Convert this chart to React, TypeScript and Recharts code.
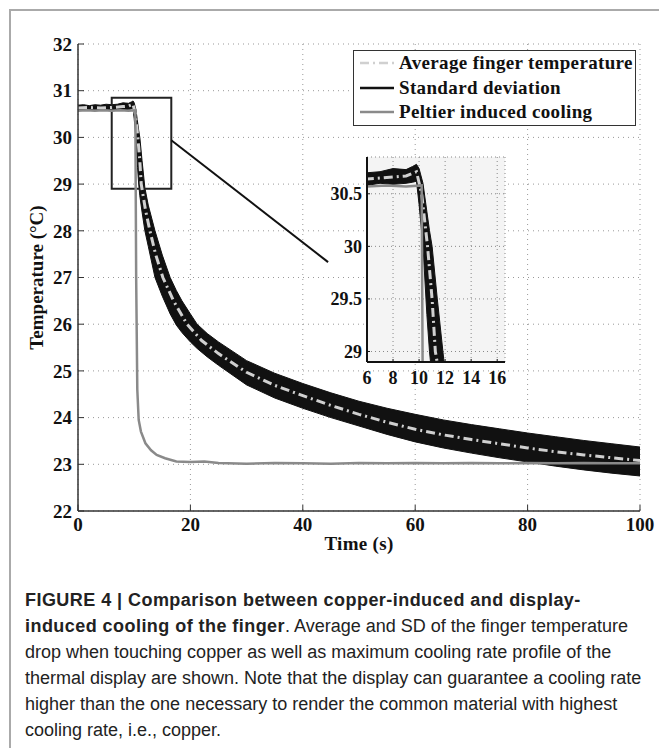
import {
  ComposedChart,
  Line,
  Area,
  XAxis,
  YAxis,
  CartesianGrid,
  ReferenceArea,
  ReferenceLine,
  Legend,
} from 'recharts';

const SERIF = '"Liberation Serif", "Times New Roman", serif';
const SANS = '"Liberation Sans", Arial, sans-serif';

// standard deviation band (lower / upper edge)
const BAND_TIME = [0, 1, 2, 3, 4, 5, 6, 7, 8, 9, 9.5, 9.8, 10, 10.3, 10.6, 10.8, 11, 11.4, 11.9, 12.5, 13.7, 15, 16.4, 17.5, 18.5, 20, 21.2, 23, 25, 30, 35, 40, 45, 50, 55, 60, 65, 70, 75, 80, 85, 90, 95, 100];
const BAND_LOW = [30.58, 30.59, 30.58, 30.59, 30.58, 30.59, 30.58, 30.6, 30.59, 30.6, 30.61, 30.62, 30.4, 30.0, 29.35, 29.0, 28.75, 28.4, 28.0, 27.67, 27.0, 26.6, 26.22, 25.98, 25.82, 25.62, 25.48, 25.3, 25.12, 24.7, 24.42, 24.2, 24.0, 23.82, 23.64, 23.48, 23.35, 23.24, 23.14, 23.05, 22.96, 22.88, 22.81, 22.75];
const BAND_HIGH = [30.69, 30.7, 30.68, 30.7, 30.69, 30.71, 30.7, 30.71, 30.74, 30.73, 30.76, 30.78, 30.74, 30.6, 30.33, 30.15, 30.0, 29.5, 28.92, 28.55, 28.0, 27.48, 27.0, 26.72, 26.5, 26.22, 26.0, 25.8, 25.62, 25.22, 24.95, 24.73, 24.53, 24.35, 24.2, 24.07, 23.95, 23.85, 23.76, 23.67, 23.59, 23.51, 23.44, 23.37];

// average finger temperature
const AVG_TIME = [0, 2, 4, 6, 8, 9, 9.8, 10.2, 10.65, 11, 11.25, 12, 12.8, 13.8, 15.1, 17, 19.4, 22, 25, 30, 35, 40, 45, 50, 55, 60, 65, 70, 75, 80, 85, 90, 95, 100];
const AVG_TEMP = [30.63, 30.64, 30.63, 30.64, 30.66, 30.67, 30.71, 30.5, 30.0, 29.5, 29.0, 28.45, 28.0, 27.5, 27.0, 26.5, 26.0, 25.65, 25.37, 24.97, 24.69, 24.47, 24.26, 24.07, 23.9, 23.75, 23.63, 23.53, 23.44, 23.35, 23.27, 23.2, 23.14, 23.08];

// peltier induced cooling
const PELTIER_TIME = [0, 1.5, 3, 4.5, 6, 7.5, 9, 10.2, 10.35, 10.55, 10.8, 11.2, 12, 13, 14, 15.5, 17.5, 20, 22.5, 25, 30, 35, 40, 45, 50, 55, 60, 65, 70, 75, 80, 85, 90, 95, 100];
const PELTIER_TEMP = [30.57, 30.58, 30.57, 30.58, 30.57, 30.58, 30.57, 30.58, 27.0, 24.6, 23.95, 23.7, 23.45, 23.3, 23.2, 23.13, 23.06, 23.05, 23.06, 23.03, 23.01, 23.03, 23.02, 23.01, 23.03, 23.02, 23.03, 23.02, 23.03, 23.02, 23.03, 23.02, 23.03, 23.02, 23.02];

const X_TICKS = [0, 20, 40, 60, 80, 100];
const Y_TICKS = [22, 23, 24, 25, 26, 27, 28, 29, 30, 31, 32];
const INSET_X = [6, 16.6];
const INSET_Y = [28.9, 30.85];
const INSET_X_TICKS = [6, 8, 10, 12, 14, 16];
const INSET_Y_TICKS = [29, 29.5, 30, 30.5];
const SERIES_NAMES = ['Average finger temperature', 'Standard deviation', 'Peltier induced cooling'];

const bandData = BAND_TIME.map((t, i) => ({ t, sd: [BAND_LOW[i], BAND_HIGH[i]] }));
const avgData = AVG_TIME.map((t, i) => ({ t, avg: AVG_TEMP[i] }));
const peltierData = PELTIER_TIME.map((t, i) => ({ t, peltier: PELTIER_TEMP[i] }));

const AVG_COLOR = '#d0d0d0';
const SD_COLOR = '#111';
const PELTIER_COLOR = '#8a8a8a';
const AVG_DASH = '9 4 2 4';

const tickStyle = { fontFamily: SERIF, fontWeight: 700, fontSize: 19, fill: '#111' };
const insetTickStyle = { fontFamily: SERIF, fontWeight: 700, fontSize: 18, fill: '#111' };

function series() {
  return [
    <Area
      key="sd"
      data={bandData}
      dataKey="sd"
      type="linear"
      stroke={SD_COLOR}
      strokeWidth={1}
      fill={SD_COLOR}
      fillOpacity={1}
      dot={false}
      activeDot={false}
      isAnimationActive={false}
    />,
    <Line
      key="avg"
      data={avgData}
      dataKey="avg"
      type="linear"
      stroke={AVG_COLOR}
      strokeWidth={3}
      strokeDasharray={AVG_DASH}
      dot={false}
      activeDot={false}
      isAnimationActive={false}
    />,
    <Line
      key="peltier"
      data={peltierData}
      dataKey="peltier"
      type="linear"
      stroke={PELTIER_COLOR}
      strokeWidth={2.5}
      dot={false}
      activeDot={false}
      isAnimationActive={false}
    />,
  ];
}

function LegendBox() {
  const styles = [
    { stroke: AVG_COLOR, dash: AVG_DASH },
    { stroke: SD_COLOR, dash: undefined },
    { stroke: PELTIER_COLOR, dash: undefined },
  ];
  return (
    <div
      style={{
        width: 283,
        height: 76,
        boxSizing: 'border-box',
        border: '1.5px solid #333',
        background: '#fff',
        fontFamily: SERIF,
        fontWeight: 700,
        fontSize: 19,
        letterSpacing: '0.35px',
        color: '#111',
      }}
    >
      {SERIES_NAMES.map((name, i) => (
        <div key={name} style={{ display: 'flex', alignItems: 'center', height: 24.5, paddingLeft: 6 }}>
          <svg width={34} height={6}>
            <line x1={0} y1={3} x2={34} y2={3} stroke={styles[i].stroke} strokeWidth={2.5} strokeDasharray={styles[i].dash} />
          </svg>
          <span style={{ marginLeft: 5, lineHeight: '24px', whiteSpace: 'nowrap' }}>{name}</span>
        </div>
      ))}
    </div>
  );
}

export default function App() {
  return (
    <div style={{ position: 'relative', width: 659, height: 748, background: '#fff', overflow: 'hidden' }}>
      <style>{`body { margin: 0; }`}</style>

      {/* figure frame */}
      <div style={{ position: 'absolute', left: 9, top: 9, width: 650, height: 2, background: '#aaa' }} />
      <div style={{ position: 'absolute', left: 9, top: 9, width: 2, height: 739, background: '#aaa' }} />

      <div style={{ position: 'absolute', left: 0, top: 0 }}>
        <ComposedChart width={659} height={556} margin={{ top: 44, right: 19, left: 0, bottom: 0 }}>
          <CartesianGrid stroke="#999" strokeDasharray="1 4" />
          <XAxis
            dataKey="t"
            type="number"
            domain={[0, 100]}
            ticks={X_TICKS}
            interval={0}
            allowDataOverflow
            height={45}
            tickSize={-6}
            tickMargin={13}
            tick={tickStyle}
            axisLine={{ stroke: '#333', strokeWidth: 1.5 }}
            tickLine={{ stroke: '#333' }}
            label={{ value: 'Time (s)', position: 'center', dy: 10, style: { ...tickStyle, letterSpacing: '0.3px' } }}
          />
          <XAxis
            xAxisId="top"
            orientation="top"
            dataKey="t"
            type="number"
            domain={[0, 100]}
            ticks={X_TICKS}
            allowDataOverflow
            height={0}
            tickSize={-6}
            tick={false}
            axisLine={{ stroke: '#333', strokeWidth: 1.5 }}
            tickLine={{ stroke: '#333' }}
          />
          <YAxis
            type="number"
            domain={[22, 32]}
            ticks={Y_TICKS}
            interval={0}
            allowDataOverflow
            width={78}
            tickSize={-6}
            tickMargin={12}
            tick={tickStyle}
            axisLine={{ stroke: '#333', strokeWidth: 1.5 }}
            tickLine={{ stroke: '#333' }}
            label={{ value: 'Temperature (°C)', angle: -90, position: 'center', dx: -3, style: tickStyle }}
          />
          <YAxis
            yAxisId="right"
            orientation="right"
            type="number"
            domain={[22, 32]}
            ticks={Y_TICKS}
            allowDataOverflow
            width={0}
            tickSize={-6}
            tick={false}
            axisLine={{ stroke: '#333', strokeWidth: 1.5 }}
            tickLine={{ stroke: '#333' }}
          />
          {series()}
          <ReferenceArea
            x1={INSET_X[0]}
            x2={INSET_X[1]}
            y1={INSET_Y[0]}
            y2={INSET_Y[1]}
            fill="none"
            stroke="#222"
            strokeWidth={2}
          />
          <ReferenceLine
            segment={[
              { x: INSET_X[1], y: 29.94 },
              { x: 44.5, y: 27.33 },
            ]}
            stroke="#111"
            strokeWidth={2}
            ifOverflow="visible"
          />
          <Legend
            content={() => <LegendBox />}
            layout="vertical"
            align="center"
            verticalAlign="middle"
            wrapperStyle={{ top: 50, left: 353, width: 283, height: 76 }}
          />
        </ComposedChart>
      </div>

      {/* zoomed inset */}
      <div style={{ position: 'absolute', left: 307, top: 150 }}>
        <ComposedChart width={202} height={242} margin={{ top: 7, right: 4, left: 0, bottom: 0 }}>
          <CartesianGrid stroke="#888" strokeDasharray="1 3" fill="#f4f4f4" fillOpacity={1} />
          <XAxis
            dataKey="t"
            type="number"
            domain={INSET_X}
            ticks={INSET_X_TICKS}
            interval={0}
            allowDataOverflow
            height={30}
            tickSize={-3}
            tickMargin={12}
            tick={insetTickStyle}
            axisLine={{ stroke: '#111', strokeWidth: 2 }}
            tickLine={{ stroke: '#111' }}
          />
          <XAxis
            xAxisId="top"
            orientation="top"
            dataKey="t"
            type="number"
            domain={INSET_X}
            ticks={INSET_X_TICKS}
            allowDataOverflow
            height={0}
            tickSize={-3}
            tick={false}
            axisLine={{ stroke: '#111', strokeWidth: 2 }}
            tickLine={{ stroke: '#111' }}
          />
          <YAxis
            type="number"
            domain={INSET_Y}
            ticks={INSET_Y_TICKS}
            interval={0}
            allowDataOverflow
            width={60}
            tickSize={-3}
            tickMargin={8}
            tick={insetTickStyle}
            axisLine={{ stroke: '#111', strokeWidth: 2 }}
            tickLine={{ stroke: '#111' }}
          />
          <YAxis
            yAxisId="right"
            orientation="right"
            type="number"
            domain={INSET_Y}
            ticks={INSET_Y_TICKS}
            allowDataOverflow
            width={0}
            tickSize={-3}
            tick={false}
            axisLine={{ stroke: '#111', strokeWidth: 2 }}
            tickLine={{ stroke: '#111' }}
          />
          {series()}
        </ComposedChart>
      </div>

      {/* caption */}
      <div
        style={{
          position: 'absolute',
          left: 25,
          top: 587,
          fontFamily: SANS,
          fontSize: 18,
          lineHeight: '26px',
          color: '#222',
          whiteSpace: 'nowrap',
        }}
      >
        <b style={{ letterSpacing: '0.45px' }}>FIGURE 4 | Comparison between copper-induced and display-</b>
        <br />
        <b style={{ letterSpacing: '0.45px' }}>induced cooling of the finger</b>. Average and SD of the finger temperature
        <br />
        drop when touching copper as well as maximum cooling rate profile of the
        <br />
        thermal display are shown. Note that the display can guarantee a cooling rate
        <br />
        higher than the one necessary to render the common material with highest
        <br />
        cooling rate, i.e., copper.
      </div>
    </div>
  );
}
